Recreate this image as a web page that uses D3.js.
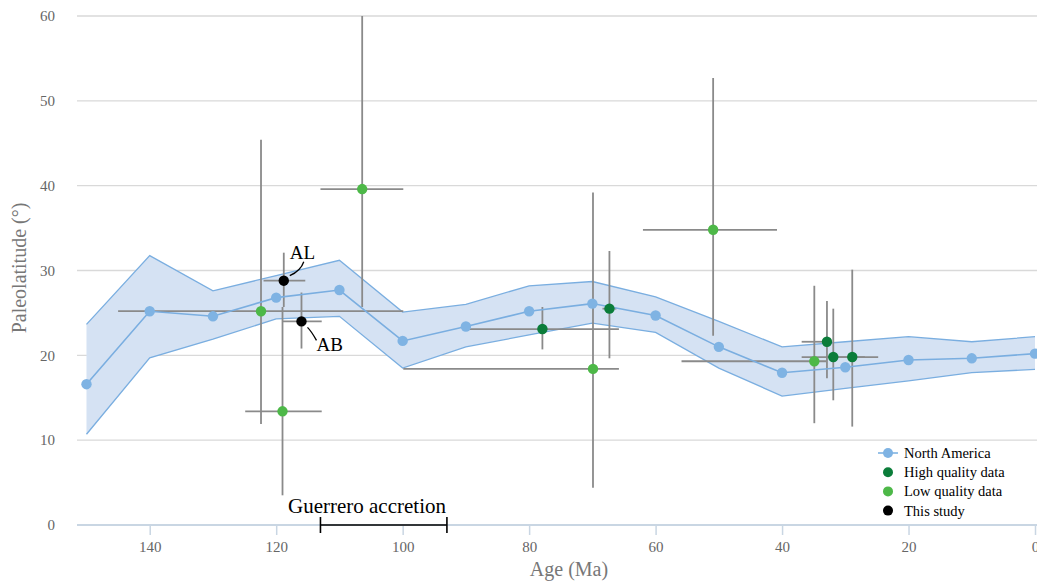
<!DOCTYPE html>
<html>
<head>
<meta charset="utf-8">
<script src="https://cdn.jsdelivr.net/npm/d3@7"></script>
<style>
  body { margin: 0; background: #fff; }
  svg { display: block; font-family: "Liberation Serif", "DejaVu Serif", serif; }
</style>
</head>
<body>
<svg id="chart" width="1037" height="581"></svg>
<script>

/* North America reference curve (age in Ma, paleolatitude in degrees) */
var naAge   = [150, 140, 130, 120, 110, 100, 90, 80, 70, 60, 50, 40, 30, 20, 10, 0];
var naLat   = [16.6, 25.2, 24.6, 26.8, 27.7, 21.7, 23.4, 25.2, 26.1, 24.7, 21.0, 17.95, 18.6, 19.45, 19.65, 20.2];
var naUpper = [23.65, 31.75, 27.6, 29.4, 31.2, 25.1, 26.0, 28.2, 28.7, 26.9, 24.0, 21.0, 21.6, 22.2, 21.6, 22.2];
var naLower = [10.7, 19.7, 21.9, 24.3, 24.6, 18.5, 21.0, 22.4, 23.8, 22.7, 18.5, 15.2, 16.1, 17.0, 17.95, 18.35];

/* Site data: age, lat, age range (old, young), lat range (low, high) */
var highQuality = [
  {age: 77.9, lat: 23.1, ageOld: 89.9, ageYoung: 65.8, latLow: 20.7, latHigh: 25.7},
  {age: 67.3, lat: 25.5, ageOld: 68.4, ageYoung: 66.2, latLow: 19.65, latHigh: 32.3},
  {age: 32.9, lat: 21.6, ageOld: 36.9, ageYoung: 32.2, latLow: 17.3, latHigh: 26.4},
  {age: 31.9, lat: 19.8, ageOld: 36.9, ageYoung: 26.9, latLow: 14.7, latHigh: 25.5},
  {age: 28.9, lat: 19.8, ageOld: 32.9, ageYoung: 24.8, latLow: 11.6, latHigh: 30.1}
];

var lowQuality = [
  {age: 122.4, lat: 25.2, ageOld: 145.0, ageYoung: 99.9, latLow: 11.9, latHigh: 45.4},
  {age: 119.0, lat: 13.4, ageOld: 124.9, ageYoung: 112.8, latLow: 3.5, latHigh: 25.7},
  {age: 106.4, lat: 39.6, ageOld: 113.0, ageYoung: 99.9, latLow: 25.7, latHigh: 60},
  {age: 69.9, lat: 18.4, ageOld: 99.9, ageYoung: 65.8, latLow: 4.4, latHigh: 39.2},
  {age: 50.9, lat: 34.8, ageOld: 62.0, ageYoung: 40.8, latLow: 22.3, latHigh: 52.7},
  {age: 34.9, lat: 19.3, ageOld: 55.9, ageYoung: 33.0, latLow: 12.0, latHigh: 28.2}
];

var thisStudy = [
  {name: "AL", age: 118.8, lat: 28.8, ageOld: 122.0, ageYoung: 115.4, latLow: 25.7, latHigh: 32.1},
  {name: "AB", age: 116.0, lat: 24.0, ageOld: 119.0, ageYoung: 112.8, latLow: 20.8, latHigh: 27.4}
];

var xTicks = [140, 120, 100, 80, 60, 40, 20, 0];
var yTicks = [0, 10, 20, 30, 40, 50, 60];
var accretion = [113, 93];

var legendItems = [
  {label: "North America", color: "#7fb3e3", line: true},
  {label: "High quality data", color: "#0b7d3a"},
  {label: "Low quality data", color: "#4db848"},
  {label: "This study", color: "#000000"}
];

var svg = d3.select("#chart");

var x = d3.scaleLinear().domain([151.5, 0]).range([77, 1035]);
var y = d3.scaleLinear().domain([0, 60]).range([525, 16]);

/* Gridlines */
svg.append("g")
  .selectAll("line")
  .data(yTicks.filter(function(d) { return d > 0; }))
  .enter().append("line")
    .attr("x1", 77)
    .attr("x2", 1037)
    .attr("y1", function(d) { return y(d); })
    .attr("y2", function(d) { return y(d); })
    .attr("stroke", "#d9d9d9")
    .attr("stroke-width", 1.3);

/* Y tick labels */
svg.append("g")
  .selectAll("text")
  .data(yTicks)
  .enter().append("text")
    .attr("x", 55)
    .attr("y", function(d) { return y(d); })
    .attr("dy", "0.35em")
    .attr("text-anchor", "end")
    .attr("fill", "#666")
    .attr("font-size", 15)
    .text(function(d) { return d; });

/* X axis */
var xAxis = d3.axisBottom(x).tickValues(xTicks).tickSize(10).tickPadding(6);
var gx = svg.append("g")
  .attr("transform", "translate(0," + y(0) + ")")
  .call(xAxis);
gx.select(".domain").remove();
gx.append("line")
  .attr("x1", 77).attr("x2", 1037)
  .attr("stroke", "#c9d6e3")
  .attr("stroke-width", 2);
gx.selectAll(".tick line").attr("stroke", "#c9d6e3").attr("stroke-width", 1.5);
gx.selectAll(".tick text")
  .attr("fill", "#666")
  .attr("font-size", 15)
  .attr("font-family", "Liberation Serif");

/* Axis titles */
svg.append("text")
  .attr("transform", "translate(26,268) rotate(-90)")
  .attr("text-anchor", "middle")
  .attr("fill", "#777")
  .attr("font-size", 20)
  .text("Paleolatitude (°)");

svg.append("text")
  .attr("x", 569)
  .attr("y", 576)
  .attr("text-anchor", "middle")
  .attr("fill", "#777")
  .attr("font-size", 20)
  .text("Age (Ma)");

/* Confidence band of the North America curve */
var naRows = naAge.map(function(a, i) {
  return {age: a, lat: naLat[i], hi: naUpper[i], lo: naLower[i]};
});

svg.append("path")
  .datum(naRows)
  .attr("fill", "#d5e2f3")
  .attr("d", d3.area()
    .x(function(d) { return x(d.age); })
    .y0(function(d) { return y(d.lo); })
    .y1(function(d) { return y(d.hi); }));

["hi", "lo"].forEach(function(k) {
  svg.append("path")
    .datum(naRows)
    .attr("fill", "none")
    .attr("stroke", "#7aaee0")
    .attr("stroke-width", 1.3)
    .attr("d", d3.line()
      .x(function(d) { return x(d.age); })
      .y(function(d) { return y(d[k]); }));
});

/* Error bars for all site data */
var sites = [].concat(
  lowQuality.map(function(d) { return Object.assign({color: "#4db848"}, d); }),
  highQuality.map(function(d) { return Object.assign({color: "#0b7d3a"}, d); }),
  thisStudy.map(function(d) { return Object.assign({color: "#000000"}, d); })
);

var bars = svg.append("g")
  .attr("stroke", "#8a8a8a")
  .attr("stroke-width", 1.8);

bars.selectAll(".vbar")
  .data(sites)
  .enter().append("line")
    .attr("class", "vbar")
    .attr("x1", function(d) { return x(d.age); })
    .attr("x2", function(d) { return x(d.age); })
    .attr("y1", function(d) { return y(d.latLow); })
    .attr("y2", function(d) { return y(d.latHigh); });

bars.selectAll(".hbar")
  .data(sites)
  .enter().append("line")
    .attr("class", "hbar")
    .attr("x1", function(d) { return x(d.ageOld); })
    .attr("x2", function(d) { return x(d.ageYoung); })
    .attr("y1", function(d) { return y(d.lat); })
    .attr("y2", function(d) { return y(d.lat); });

/* North America curve and markers */
svg.append("path")
  .datum(naRows)
  .attr("fill", "none")
  .attr("stroke", "#7aaee0")
  .attr("stroke-width", 1.6)
  .attr("d", d3.line()
    .x(function(d) { return x(d.age); })
    .y(function(d) { return y(d.lat); }));

svg.append("g")
  .selectAll("circle")
  .data(naRows)
  .enter().append("circle")
    .attr("cx", function(d) { return x(d.age); })
    .attr("cy", function(d) { return y(d.lat); })
    .attr("r", 5.2)
    .attr("fill", "#7fb3e3");

/* Site markers */
svg.append("g")
  .selectAll("circle")
  .data(sites)
  .enter().append("circle")
    .attr("cx", function(d) { return x(d.age); })
    .attr("cy", function(d) { return y(d.lat); })
    .attr("r", 5.2)
    .attr("fill", function(d) { return d.color; });

/* AL / AB labels with leader curves */
var al = thisStudy[0], ab = thisStudy[1];
var alx = x(al.age), aly = y(al.lat), abx = x(ab.age), aby = y(ab.lat);

svg.append("path")
  .attr("d", "M" + (alx + 6) + "," + (aly - 5) + " Q" + (alx + 17) + "," + (aly - 10) + " " + (alx + 20) + "," + (aly - 19))
  .attr("fill", "none").attr("stroke", "#000").attr("stroke-width", 1.3);
svg.append("text")
  .attr("x", alx + 6).attr("y", aly - 22)
  .attr("font-size", 19)
  .text(al.name);

svg.append("path")
  .attr("d", "M" + (abx + 6) + "," + (aby + 6) + " Q" + (abx + 10) + "," + (aby + 10) + " " + (abx + 15) + "," + (aby + 19))
  .attr("fill", "none").attr("stroke", "#000").attr("stroke-width", 1.3);
svg.append("text")
  .attr("x", abx + 15).attr("y", aby + 30)
  .attr("font-size", 19)
  .text(ab.name);

/* Guerrero accretion bracket */
var acc = svg.append("g").attr("stroke", "#000").attr("stroke-width", 1.6);
acc.append("line")
  .attr("x1", x(accretion[0])).attr("x2", x(accretion[1]))
  .attr("y1", y(0)).attr("y2", y(0));
accretion.forEach(function(a) {
  acc.append("line")
    .attr("x1", x(a)).attr("x2", x(a))
    .attr("y1", y(0) - 8).attr("y2", y(0) + 8);
});
svg.append("text")
  .attr("x", 367)
  .attr("y", 513)
  .attr("text-anchor", "middle")
  .attr("font-size", 21)
  .text("Guerrero accretion");

/* Legend */
var legend = svg.append("g").attr("transform", "translate(888,453)");
var item = legend.selectAll("g")
  .data(legendItems)
  .enter().append("g")
    .attr("transform", function(d, i) { return "translate(0," + (i * 19.2) + ")"; });

item.filter(function(d) { return d.line; })
  .append("line")
    .attr("x1", -10).attr("x2", 10)
    .attr("stroke", function(d) { return d.color; })
    .attr("stroke-width", 1.6);

item.append("circle")
  .attr("r", 5)
  .attr("fill", function(d) { return d.color; });

item.append("text")
  .attr("x", 16)
  .attr("dy", "0.35em")
  .attr("font-size", 14.5)
  .attr("fill", "#000")
  .text(function(d) { return d.label; });

</script>
</body>
</html>
